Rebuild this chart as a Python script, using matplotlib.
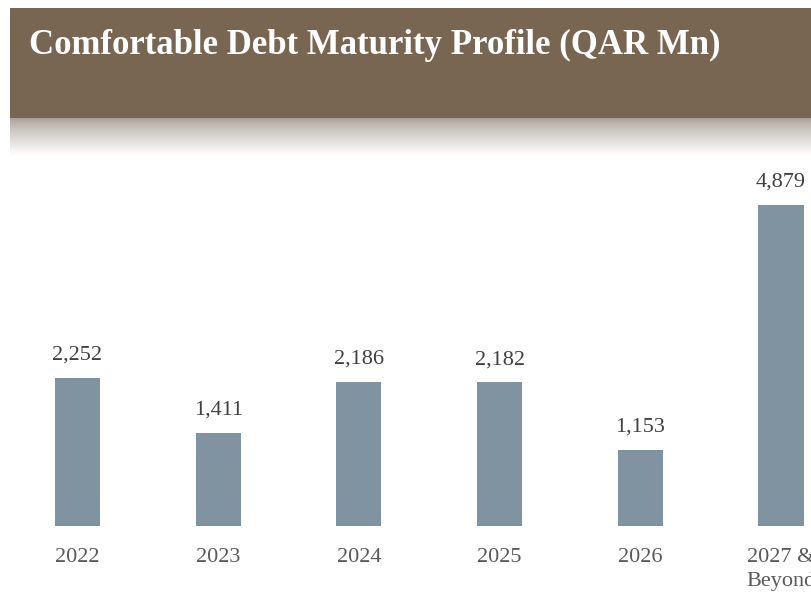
import matplotlib.pyplot as plt
import numpy as np
from matplotlib.patches import Rectangle

# data
years = ["2022", "2023", "2024", "2025", "2026", "2027 &\nBeyond"]
debt = [2252, 1411, 2186, 2182, 1153, 4879]

bar_color = "#7F93A1"
header_color = "#786652"
W, H = 812, 595

fig = plt.figure(figsize=(W / 100, H / 100), dpi=100)
fig.patch.set_facecolor("white")

# header band
fig.patches.append(Rectangle((10 / W, 1 - 118 / H), 1, 110 / H,
                             transform=fig.transFigure, facecolor=header_color,
                             edgecolor="none", zorder=0))
fig.text(29 / W, 1 - 45 / H, "Comfortable Debt Maturity Profile (QAR Mn)",
         color="white", fontsize=25, fontweight="bold", family="Liberation Serif",
         ha="left", va="center")

# shadow below header
sh = fig.add_axes([10 / W, 1 - 156 / H, 1 - 10 / W, 38 / H])
grad = np.linspace(0, 1, 64).reshape(-1, 1)
top = np.array([0.66, 0.63, 0.60])
img = top + (1 - top) * grad[..., None] ** 0.8
sh.imshow(img, aspect="auto", extent=(0, 1, 0, 1))
sh.axis("off")

# bars
ax = fig.add_axes([0, 69 / H, 1, 364 / H])
x = np.arange(len(years))
ax.bar(x, debt, width=0.32, color=bar_color)
ax.set_xlim(-77.5 / 140.7, (W - 77.5) / 140.7)
ax.set_ylim(0, 5530)
for xi, v in zip(x, debt):
    ax.text(xi, v + 200, "{:,}".format(v), ha="center", va="bottom",
            fontsize=16, color="#404040", family="Liberation Serif")
ax.set_xticks(x)
ax.set_xticklabels(years, fontsize=16, color="#595959", family="Liberation Serif",
                   linespacing=1.35, va="top")
ax.tick_params(axis="x", length=0, pad=16)
ax.set_yticks([])
for s in ax.spines.values():
    s.set_visible(False)

plt.savefig("out.png", dpi=100)
